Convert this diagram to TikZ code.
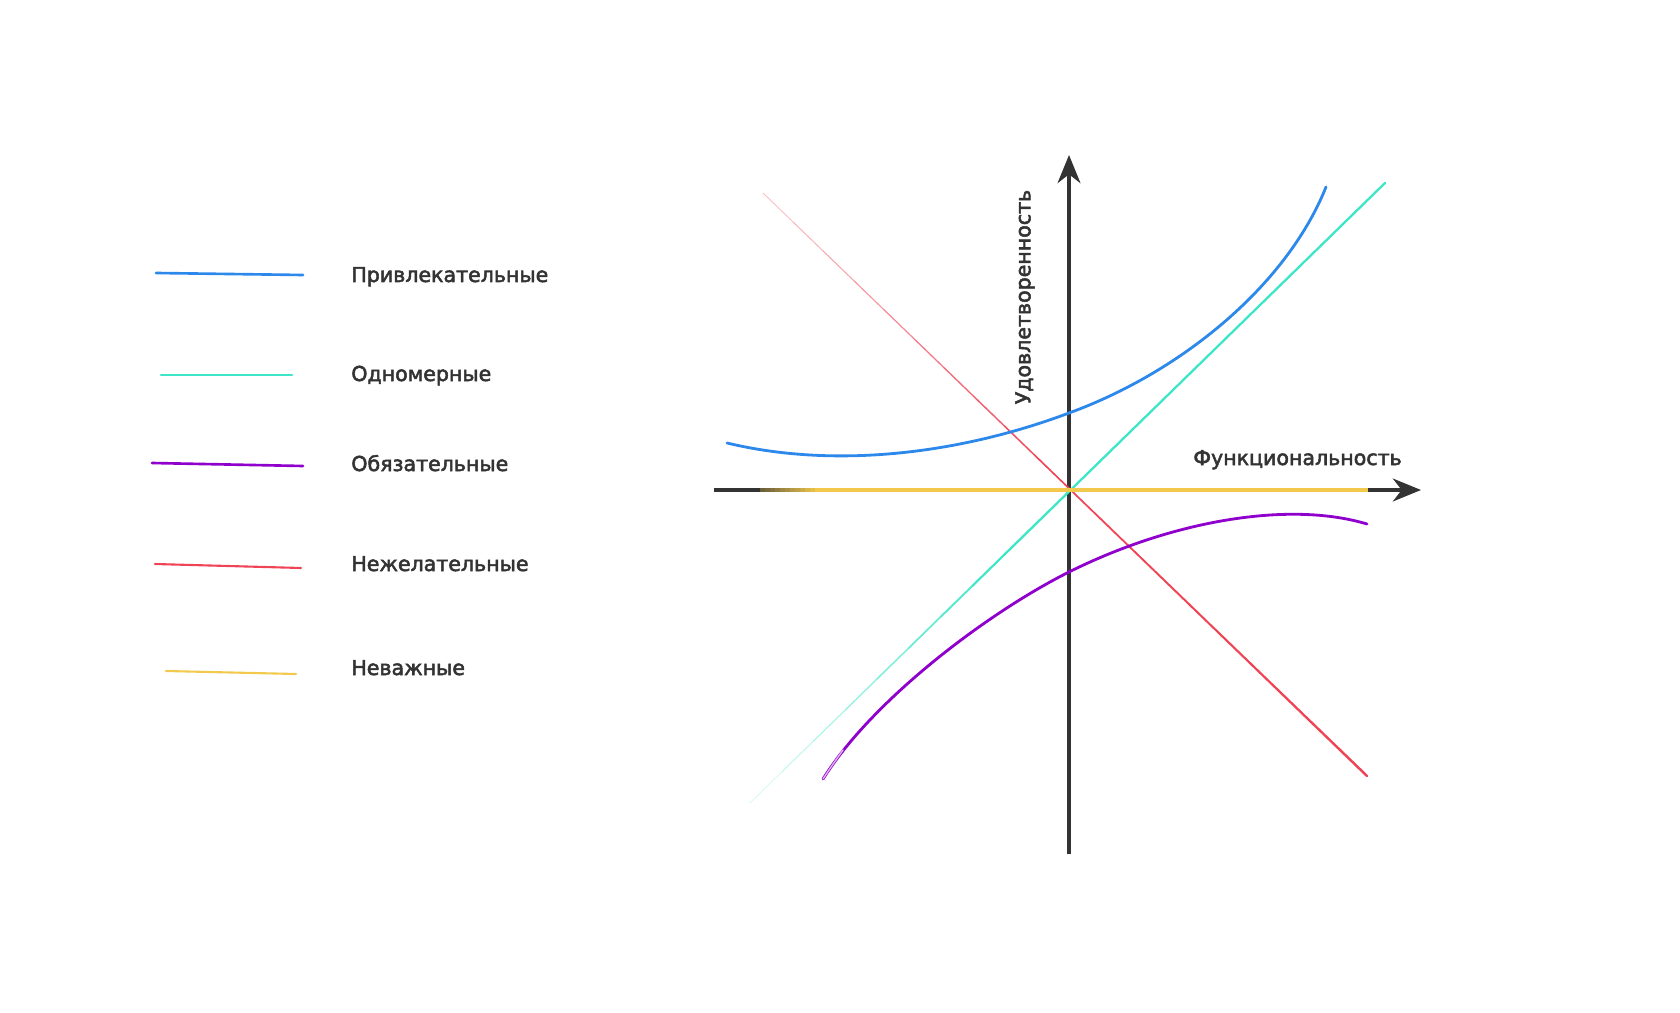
\documentclass[tikz,border=0pt]{standalone}
\usepackage{fontspec}
\setmainfont{DejaVu Sans}[BoldFont={DejaVu Sans}, BoldFeatures={FakeBold=2.5}]
\usetikzlibrary{positioning,arrows.meta,calc}

\definecolor{axisgray}{HTML}{333333}
\definecolor{attrblue}{HTML}{2D88EC}
\definecolor{onedteal}{HTML}{3DE6C6}
\definecolor{mustpurple}{HTML}{9000CC}
\definecolor{revred}{HTML}{EE4455}
\definecolor{indyellow}{HTML}{F2C94C}

\begin{document}
\begin{tikzpicture}[x=0.02cm,y=-0.02cm,
    lbl/.style={font=\fontsize{11.7}{13}\selectfont\bfseries, text=axisgray, inner sep=0pt},
    axisline/.style={draw=axisgray, line width=2pt},
    keyline/.style={line width=1.2pt, line cap=round}]
    \useasboundingbox (0,0) rectangle (1680,1013);

    % legend
    \coordinate (k1a) at (156,273); \coordinate (k1b) at (303,275);
    \coordinate (k2a) at (161,375); \coordinate (k2b) at (292,375);
    \coordinate (k3a) at (152,463); \coordinate (k3b) at (303,466);
    \coordinate (k4a) at (155,564); \coordinate (k4b) at (301,568);
    \coordinate (k5a) at (166,671); \coordinate (k5b) at (296,674);
    \draw[keyline, attrblue, line width=1.5pt] (k1a) -- (k1b);
    \draw[keyline, onedteal] (k2a) -- (k2b);
    \draw[keyline, mustpurple, line width=1.5pt] (k3a) -- (k3b);
    \draw[keyline, revred] (k4a) -- (k4b);
    \draw[keyline, indyellow] (k5a) -- (k5b);
    \node[lbl, anchor=base west] (t1) at (351,282) {Привлекательные};
    \node[lbl, anchor=base west] (t2) at (351,381) {Одномерные};
    \node[lbl, anchor=base west] (t3) at (351,471) {Обязательные};
    \node[lbl, anchor=base west] (t4) at (351,571) {Нежелательные};
    \node[lbl, anchor=base west] (t5) at (351,675) {Неважные};

    % axes
    \coordinate (O) at (1069,490);
    \coordinate (xl) at (714,490);
    \coordinate (xr) at (1421,490);
    \coordinate (yb) at (1069,854);
    \coordinate (yt) at (1069,155);
    \draw[axisline, -{Stealth[length=16pt,width=13pt,inset=5pt]}] (xl) -- (xr);
    \draw[axisline, -{Stealth[length=16pt,width=13pt,inset=5pt]}] (yb) -- (yt);
    \node[lbl, rotate=90] (ylab) at (1025,297) {Удовлетворенность};
    \node[lbl, anchor=base west] (xlab) at (1193,465) {Функциональность};

    % reverse (red), fades in from the top
    \coordinate (ra) at (763,193);
    \coordinate (rb) at (1367,776);
    \foreach \i in {0,...,19} {
        \pgfmathsetmacro\ta{\i/20}
        \pgfmathsetmacro\tb{(\i+1)/20}
        \pgfmathtruncatemacro\c{35+65*min(1,\i/9)}
        \pgfmathsetmacro\w{0.5+0.9*\i/19}
        \draw[revred!\c, line width=\w pt, line cap=round] ($(ra)!\ta!(rb)$) -- ($(ra)!\tb!(rb)$);
    }

    % one-dimensional (teal), fades in from the bottom
    \coordinate (ga) at (750,803);
    \coordinate (gb) at (1385,183);
    \foreach \i in {0,...,19} {
        \pgfmathsetmacro\ta{\i/20}
        \pgfmathsetmacro\tb{(\i+1)/20}
        \pgfmathtruncatemacro\c{20+80*min(1,\i/7)}
        \pgfmathsetmacro\w{0.5+0.8*min(1,\i/8)}
        \draw[onedteal!\c, line width=\w pt, line cap=round] ($(ga)!\ta!(gb)$) -- ($(ga)!\tb!(gb)$);
    }

    % indifferent (yellow) on the x axis
    \coordinate (ya) at (760,490);
    \coordinate (yc) at (820,490);
    \coordinate (yz) at (1368,490);
    \foreach \i in {0,...,11} {
        \pgfmathsetmacro\ta{\i/12}
        \pgfmathsetmacro\tb{(\i+1)/12}
        \pgfmathtruncatemacro\c{30+70*\i/11}
        \draw[indyellow!\c!axisgray, line width=2pt] ($(ya)!\ta!(yc)$) -- ($(ya)!\tb!(yc)$);
    }
    \draw[indyellow, line width=2pt] (yc) -- (yz);

    % attractive (blue)
    \coordinate (ba) at (727,443);
    \coordinate (bm) at (1069,413);
    \coordinate (bz) at (1326,187);
    \draw[attrblue, line width=1.6pt, line cap=round] (ba)
        .. controls (840,470) and (965,452) .. (bm)
        .. controls (1179,373) and (1286,287) .. (bz);

    % must-be (purple), fades in at its start
    \coordinate (pa) at (823,779);
    \coordinate (pm) at (1069,572);
    \coordinate (pz) at (1367,524);
    \draw[mustpurple, line width=1.6pt, line cap=round] (pa)
        .. controls (873,699) and (989,612) .. (pm)
        .. controls (1169,522) and (1287,500) .. (pz);
    \draw[mustpurple!30, line width=0.8pt, line cap=round] (pa) .. controls (830,768) and (836,760) .. (843,750);
\end{tikzpicture}
\end{document}
